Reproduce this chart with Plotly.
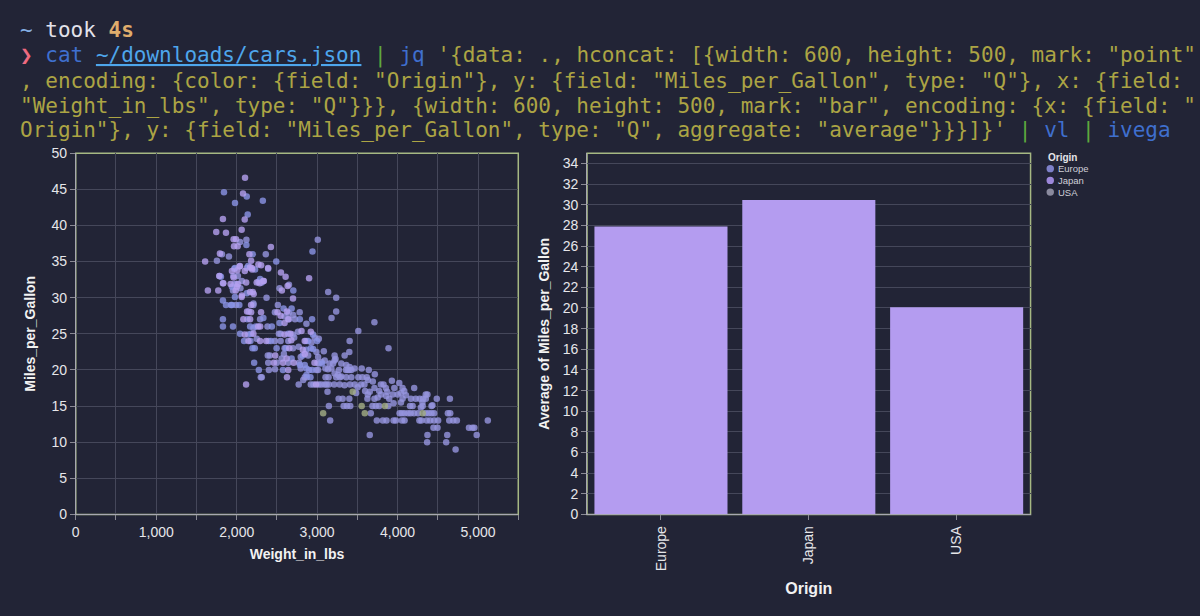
import plotly.graph_objects as go

# ---------------- data ----------------
origins = ["Europe", "Japan", "USA"]
avg_mpg = [27.89, 30.45, 20.08]

weight_ticks = [0, 1000, 2000, 3000, 4000, 5000]
weight_tick_labels = ["0", "1,000", "2,000", "3,000", "4,000", "5,000"]

# (Weight_in_lbs, Miles_per_Gallon)
japan_points = [
    (2104, 46.6), (2079, 44.4), (1829, 40.9), (2100, 40.8), (2062, 39.4), (1746, 39.1), (1867, 39.0),
    (1962, 38.1), (1992, 38.1), (2425, 37.0), (1967, 37.1), (2012, 37.1), (1792, 36.1), (2158, 36.0),
    (1608, 35.0), (2179, 35.1), (2304, 34.5), (2037, 34.3), (2008, 33.8), (2167, 34.2), (2192, 33.9),
    (2550, 33.5), (2608, 32.9), (2900, 32.7), (1783, 33.0), (1962, 32.8), (1925, 31.9), (2017, 31.9),
    (2287, 32.0), (2337, 32.3), (2633, 31.6), (1642, 31.0), (1771, 31.0), (1988, 31.0), (2562, 31.0),
    (2200, 30.8), (2212, 30.5), (2062, 30.1), (2179, 29.0), (2700, 29.9), (2129, 28.1), (2179, 28.0),
    (2625, 28.1), (2083, 27.0), (2546, 27.5), (2267, 26.0), (2292, 26.0), (2208, 25.0), (2667, 25.0),
    (2921, 25.3), (2146, 24.0), (2367, 24.0), (2679, 24.1), (2846, 24.0), (2654, 23.0), (2479, 22.0),
    (2846, 22.2), (2462, 21.0), (2708, 21.0), (2967, 21.0), (2117, 18.0), (2625, 19.0), (2987, 18.0),
    (2508, 28.0), (2040, 34.4), (1941, 33.7), (2101, 33.7), (2188, 34.1), (2270, 34.6), (2390, 34.1),
    (2332, 32.3), (2118, 32.1), (1834, 32.0), (2002, 31.5), (2249, 32.1), (2064, 30.3), (2167, 30.8),
    (2303, 28.0), (2641, 27.0), (2595, 26.5), (2167, 27.0), (2595, 24.9), (2806, 25.4), (2101, 24.9),
    (2291, 24.0), (2822, 22.8), (2620, 21.6), (2576, 21.0), (2641, 20.0),
]

europe_points = [
    (1842, 44.6), (2125, 44.0), (1979, 43.1), (2325, 43.4), (2137, 41.5), (2121, 37.3), (2942, 36.4),
    (2200, 36.0), (2492, 35.0), (1804, 32.9), (2271, 32.2), (2704, 31.0), (1829, 29.6), (1867, 29.0),
    (1929, 29.0), (2033, 29.0), (2583, 28.5), (1829, 27.0), (2133, 27.0), (2937, 27.0), (1829, 26.0),
    (1954, 26.0), (2237, 26.0), (2437, 26.0), (2042, 25.0), (2179, 25.0), (2092, 24.0), (2171, 24.0),
    (2425, 24.0), (2867, 24.0), (3000, 24.0), (2196, 23.0), (2225, 23.0), (2612, 23.0), (2921, 23.0),
    (2821, 22.0), (2217, 21.0), (3062, 20.9), (2275, 20.0), (2575, 20.0), (2937, 20.0), (2917, 19.0),
    (1978, 34.1), (2143, 34.4), (2229, 33.9), (2291, 32.6), (1789, 33.0), (1941, 31.5), (2312, 32.1),
    (1978, 30.1), (2126, 30.6), (1941, 29.0), (2683, 28.5), (2332, 27.2), (2534, 26.5), (2785, 27.0),
    (2167, 26.0), (2641, 25.0), (2949, 24.9), (2143, 24.9), (2496, 23.0), (2867, 22.8), (2683, 21.6),
    (2785, 20.7), (2867, 20.2), (2888, 24.0), (2950, 22.9), (2846, 20.7), (2867, 19.3),
]

usa_points = [
    (2121, 38.0), (3008, 38.0), (2042, 37.7), (1817, 36.0), (2362, 36.0), (1754, 35.1), (1904, 35.7),
    (2392, 34.0), (1971, 34.0), (2125, 34.1), (1829, 32.0), (2000, 31.9), (2650, 31.8), (1954, 31.0),
    (2046, 31.3), (2533, 31.3), (3137, 30.8), (3237, 30.0), (2371, 30.0), (1992, 29.0), (2208, 29.0),
    (2512, 29.0), (3237, 28.1), (2150, 28.1), (2475, 28.0), (2646, 27.9), (2783, 28.0), (2725, 27.0),
    (2650, 27.0), (3179, 27.2), (3712, 26.6), (2596, 27.4), (2208, 25.8), (2383, 26.0), (2525, 25.0),
    (2546, 25.0), (2696, 24.9), (2762, 25.3), (3512, 25.4), (2396, 24.0), (2475, 24.0), (2546, 24.0),
    (2642, 24.0), (3021, 24.3), (3404, 24.0), (2596, 23.0), (2700, 23.0), (2771, 23.2), (3887, 23.0),
    (2387, 22.0), (2412, 22.0), (2587, 22.2), (2796, 21.8), (3083, 22.6), (3217, 22.0), (3229, 21.5),
    (3400, 22.5), (3342, 22.0), (2392, 21.0), (2500, 21.0), (2642, 21.0), (2775, 21.0), (3004, 21.0),
    (3021, 20.9), (3154, 20.9), (2400, 20.0), (2796, 20.2), (2900, 20.0), (3012, 20.0), (3271, 20.0),
    (3358, 20.0), (3379, 20.0), (3400, 20.0), (3425, 20.0), (3554, 20.2), (3642, 20.0), (2300, 19.0),
    (2312, 19.0), (2846, 19.0), (2871, 19.0), (2771, 18.0), (2921, 18.0), (2954, 18.0), (3021, 18.0),
    (3117, 18.0), (3146, 18.0), (3212, 18.0), (3104, 19.0), (3142, 19.0), (3237, 19.0), (3283, 19.0),
    (3362, 19.0), (3425, 19.0), (3512, 19.0), (3562, 19.0), (3617, 19.0), (3717, 19.4), (3467, 18.0),
    (3504, 17.6), (3546, 18.0), (3408, 18.0), (3792, 18.0), (3825, 18.0), (3929, 18.5), (3596, 17.1),
    (3654, 17.0), (3771, 17.1), (3854, 17.5), (3871, 17.0), (3129, 17.0), (3267, 16.0), (3400, 16.0),
    (3625, 16.0), (3712, 16.0), (3858, 16.4), (3896, 16.0), (3950, 15.4), (4042, 15.5), (4062, 16.0),
    (4104, 16.5), (4154, 15.0), (4187, 15.0), (4225, 16.0), (4275, 16.0), (4317, 16.0), (4350, 16.6),
    (4487, 16.0), (4650, 16.0), (3146, 15.0), (3329, 15.0), (3371, 15.0), (3412, 15.0), (3687, 15.0),
    (3729, 15.0), (3771, 15.0), (4312, 15.0), (4421, 15.0), (3667, 14.0), (4025, 14.0), (4054, 14.0),
    (4087, 14.0), (4129, 14.0), (4162, 14.0), (4204, 14.0), (4254, 14.0), (4350, 14.0), (4387, 14.0),
    (4421, 14.0), (4454, 14.0), (4625, 14.0), (4654, 14.0), (3162, 13.0), (3742, 13.0), (3817, 13.0),
    (3862, 13.0), (3950, 13.0), (3979, 13.0), (4054, 13.0), (4087, 13.0), (4271, 13.0), (4296, 13.0),
    (4362, 13.0), (4404, 13.0), (4454, 13.0), (4504, 13.0), (4642, 13.0), (4692, 13.0), (4737, 13.0),
    (5121, 13.0), (4446, 12.0), (4496, 12.0), (4887, 12.0), (4929, 12.0), (4954, 12.0), (3654, 11.0),
    (4371, 11.0), (4617, 11.0), (4983, 11.0), (4367, 10.0), (4604, 10.0), (4721, 9.0),
    (1958, 33.0), (2015, 33.0), (2064, 32.3), (1973, 31.9), (2209, 29.2), (2703, 27.6), (2291, 27.0),
    (2867, 26.4), (2249, 24.3), (2715, 24.5), (2559, 21.6), (2476, 20.1), (2827, 18.6), (3217, 21.3),
    (3300, 20.9), (3362, 20.7), (3403, 20.4), (3465, 20.2), (4021, 18.2), (3630, 18.6), (3692, 18.4),
    (3588, 18.0), (3341, 17.9), (3280, 18.0), (3485, 16.8), (3630, 16.6), (3712, 17.5), (3795, 16.6),
    (3753, 16.2), (4001, 16.6), (3317, 16.0), (3885, 15.0), (2930, 23.8), (2970, 24.5), (2888, 22.0),
    (2991, 22.5), (2991, 20.0), (3053, 18.0), (3094, 18.0), (3012, 21.8), (3053, 21.1), (3094, 21.3),
    (3103, 20.2), (3135, 20.1), (3177, 20.2), (3198, 20.9), (3217, 19.5), (3259, 19.3), (3300, 19.1),
    (3959, 17.5), (3939, 16.6), (4062, 17.5), (4083, 17.1), (4042, 16.8), (4206, 17.5), (4371, 16.6),
    (4166, 16.0), (4351, 16.0), (4309, 15.5), (4289, 14.8), (4433, 15.1),
]

# a few USA points that render with a paler, greener tint
usa_points_pale = [(3075, 14.0), (3554, 15.0), (3592, 14.0), (3842, 15.0), (3442, 17.0), (4312, 14.0)]

# ---------------- styling ----------------
BG = "#222436"
GRID = "#45475a"
FRAME = "#a6b883"
TICKC = "#e6e6ea"
AX_FONT = "Liberation Sans, Arial, sans-serif"
MONO = "DejaVu Sans Mono, monospace"

W, H = 1200, 616
L_X0, L_X1 = 72, 516
R_X0, R_X1 = 585, 1030
P_Y0, P_Y1 = 149, 520  # top, bottom in px


def xdom(a, b):
    return [a / W, b / W]


def ydom(top, bottom):
    return [(H - bottom) / H, (H - top) / H]


def px(x):
    return x / W


def py(y):
    return 1 - y / H


fig = go.Figure()


def add_points(pts, color, opacity=0.8):
    fig.add_trace(go.Scatter(
        x=[p[0] for p in pts], y=[p[1] for p in pts], mode="markers",
        marker=dict(size=6.5, color=color, opacity=opacity, line=dict(width=0)),
        showlegend=False, hoverinfo="skip", xaxis="x", yaxis="y"))


add_points(usa_points, "#9695de")
add_points(usa_points_pale, "#a4ae86")
add_points(europe_points, "#8b94e6")
add_points(japan_points, "#b5a0f0")

fig.add_trace(go.Bar(
    x=origins, y=avg_mpg, marker=dict(color="#b49cf0", line=dict(width=0)),
    showlegend=False, xaxis="x2", yaxis="y2", hoverinfo="skip"))

axis_common = dict(
    showgrid=True, gridcolor=GRID, gridwidth=1, zeroline=False,
    showline=True, linecolor="#a8a8b0", linewidth=1,
    ticks="outside", ticklen=5, tickcolor="#8a8a94",
    tickfont=dict(family=AX_FONT, size=14, color=TICKC),
)
TITLE_FONT = dict(family=AX_FONT, size=14, color="#f2f2f2")

fig.update_layout(
    width=W, height=H,
    margin=dict(l=0, r=0, t=0, b=0),
    paper_bgcolor=BG, plot_bgcolor=BG,
    bargap=0.1,
    showlegend=False,
    xaxis=dict(
        domain=xdom(L_X0, L_X1), range=[0, 5500], anchor="y",
        tickvals=weight_ticks, ticktext=weight_tick_labels,
        minor=dict(dtick=500, tick0=0, showgrid=True, gridcolor=GRID, ticks="outside", ticklen=5, tickcolor="#8a8a94"),
        title=dict(text="<b>Weight_in_lbs</b>", font=TITLE_FONT, standoff=9),
        **axis_common),
    yaxis=dict(
        domain=ydom(P_Y0, P_Y1), range=[0, 50], dtick=5, anchor="x",
        title=dict(text="<b>Miles_per_Gallon</b>", font=TITLE_FONT, standoff=12),
        **axis_common),
    xaxis2=dict(
        domain=xdom(R_X0, R_X1), anchor="y2", type="category",
        tickangle=-90,
        title=dict(text="<b>Origin</b>", font=dict(family=AX_FONT, size=16, color="#f2f2f2"), standoff=12),
        **{**axis_common, "showgrid": False}),
    yaxis2=dict(
        domain=ydom(P_Y0, P_Y1), range=[0, 35], dtick=2, anchor="x2",
        title=dict(text="<b>Average of Miles_per_Gallon</b>", font=TITLE_FONT, standoff=9),
        **axis_common),
)

# frames around each view
for xr, yr in (("x domain", "y domain"), ("x2 domain", "y2 domain")):
    fig.add_shape(type="rect", xref=xr, yref=yr, x0=0, x1=1, y0=0, y1=1,
                  line=dict(color=FRAME, width=1.5), fillcolor="rgba(0,0,0,0)", layer="below")

# ---------------- colour legend (symbol legend of the scatter) ----------------
legend_colors = {"Europe": "#7e81c9", "Japan": "#9c87da", "USA": "#8a8a9e"}
fig.add_annotation(x=px(1045), y=py(153), xref="paper", yref="paper", xanchor="left", yanchor="middle",
                   showarrow=False, text="<b>Origin</b>",
                   font=dict(family=AX_FONT, size=10, color="#e4e4ea"))
for i, o in enumerate(origins):
    cy = 165 + 12 * i
    fig.add_shape(type="circle", xref="paper", yref="paper",
                  x0=px(1046), x1=px(1053.5), y0=py(cy + 3.75), y1=py(cy - 3.75),
                  fillcolor=legend_colors[o], line=dict(width=0))
    fig.add_annotation(x=px(1056), y=py(cy), xref="paper", yref="paper", xanchor="left", yanchor="middle",
                       showarrow=False, text=o, font=dict(family=AX_FONT, size=9.5, color="#cfcfd8"))

# ---------------- terminal text ----------------
C_TILDE = "#86b0e6"
C_WHITE = "#e2e2ea"
C_ORANGE = "#e0ad6c"
C_PINK = "#ee6a80"
C_BLUE = "#3f6fce"
C_LINK = "#4ea6ec"
C_GREEN = "#5ea83e"
C_STR = "#aca444"


def sp(txt, color, extra=""):
    return f'<span style="color:{color};{extra}">{txt}</span>'


lines = [
    sp("~", C_TILDE) + " " + sp("took", C_WHITE) + " " + "<b>" + sp("4s", C_ORANGE) + "</b>",
    sp("❯", C_PINK) + " " + sp("cat", C_BLUE) + " "
    + sp("~/downloads/cars.json", C_LINK, "text-decoration:underline") + " "
    + sp("|", C_GREEN) + " " + sp("jq", C_BLUE) + " "
    + sp("'{data: ., hconcat: [{width: 600, height: 500, mark: \"point\"", C_STR),
    sp(", encoding: {color: {field: \"Origin\"}, y: {field: \"Miles_per_Gallon\", type: \"Q\"}, x: {field: ", C_STR),
    sp("\"Weight_in_lbs\", type: \"Q\"}}}, {width: 600, height: 500, mark: \"bar\", encoding: {x: {field: \"", C_STR),
    sp("Origin\"}, y: {field: \"Miles_per_Gallon\", type: \"Q\", aggregate: \"average\"}}}]}'", C_STR) + " "
    + sp("|", C_GREEN) + " " + sp("vl", C_BLUE) + " " + sp("|", C_GREEN) + " " + sp("ivega", C_BLUE),
]
line_y = [23, 49, 75, 101, 126]

for txt, yy in zip(lines, line_y):
    fig.add_annotation(
        x=px(14), y=py(yy), xref="paper", yref="paper",
        xanchor="left", yanchor="middle", showarrow=False, align="left",
        text=txt, font=dict(family=MONO, size=21, color=C_STR))

fig.write_html("out.html", config={"displayModeBar": False},
               post_script="document.body.style.margin='0px';document.body.style.overflow='hidden';")
